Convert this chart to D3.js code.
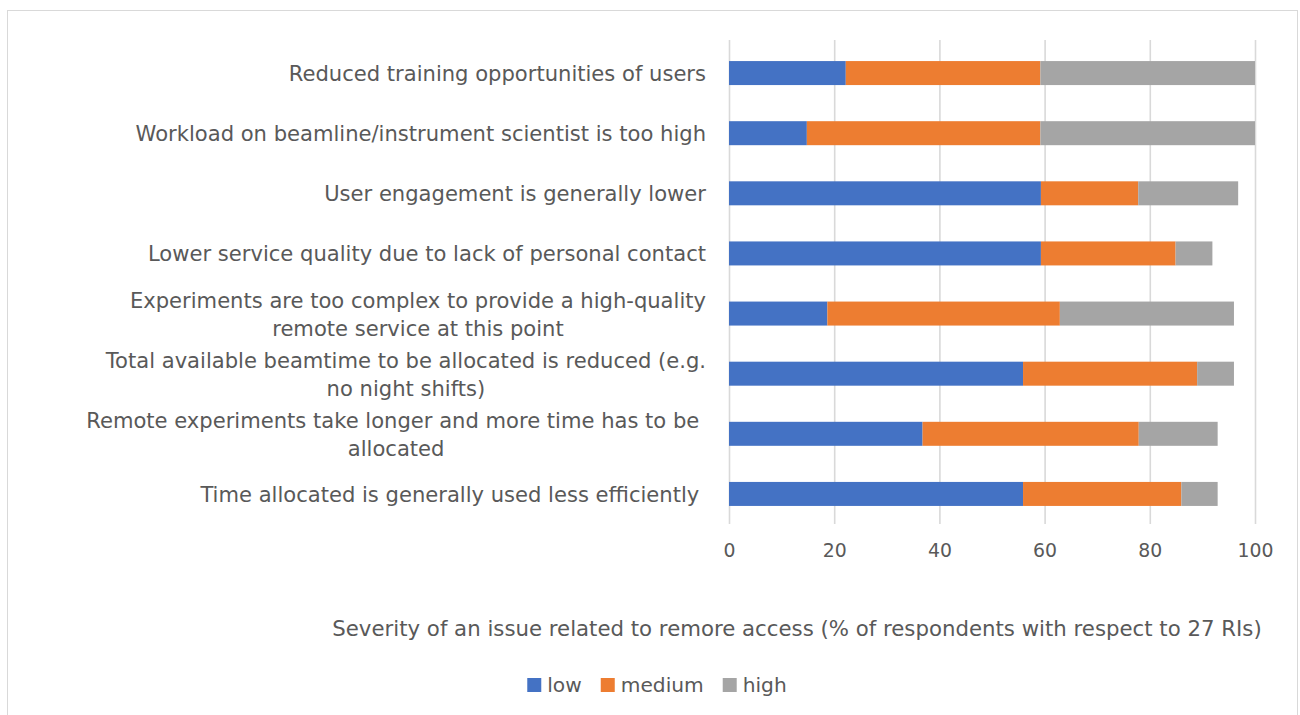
<!DOCTYPE html>
<html>
<head>
<meta charset="utf-8">
<script src="https://cdn.jsdelivr.net/npm/d3@7"></script>
<style>
  html, body { margin: 0; padding: 0; background: #fff; }
  svg { display: block; }
  text { font-family: "DejaVu Sans", sans-serif; fill: #595959; }
</style>
</head>
<body>
<svg id="chart" width="1300" height="715"></svg>
<script>
const categories = [
  ["Reduced training opportunities of users"],
  ["Workload on beamline/instrument scientist is too high"],
  ["User engagement is generally lower"],
  ["Lower service quality due to lack of personal contact"],
  ["Experiments are too complex to provide a high-quality", "remote service at this point"],
  ["Total available beamtime to be allocated is reduced (e.g.", "no night shifts)"],
  ["Remote experiments take longer and more time has to be ", "allocated"],
  ["Time allocated is generally used less efficiently "]
];
const low    = [22.2, 14.8, 59.3, 59.3, 18.7, 55.9, 36.8, 55.9];
const medium = [37.0, 44.4, 18.5, 25.6, 44.2, 33.1, 41.1, 30.1];
const high   = [40.8, 40.8, 19.0, 7.0, 33.1, 7.0, 15.0, 6.9];
const seriesNames = ["low", "medium", "high"];
const colors = ["#4472c4", "#ed7d31", "#a5a5a5"];
const xTicks = [0, 20, 40, 60, 80, 100];
const axisTitle = "Severity of an issue related to remore access (% of respondents with respect to 27 RIs)";

const svg = d3.select("#chart");

// helper: font size so that a string spans a target width
function fitSize(str, target, base) {
  const t = svg.append("text").attr("xml:space", "preserve").style("font-size", base + "px").text(str);
  const w = t.node().getComputedTextLength();
  t.remove();
  return base * target / w;
}

// outer frame
svg.append("rect").attr("x", 7.5).attr("y", 10.5).attr("width", 1290).attr("height", 720)
  .attr("fill", "#fff").attr("stroke", "#d9d9d9").attr("stroke-width", 1);

const x0 = 729, x1 = 1255, yTop = 43, yBot = 524;
const x = d3.scaleLinear().domain([0, 100]).range([x0, x1]);
const idx = d3.range(categories.length);
const y = d3.scaleBand().domain(idx).range([yTop, yBot]).paddingInner(0.6).paddingOuter(0.3);

// gridlines
const grid = svg.append("g").attr("transform", `translate(0,${yBot})`)
  .call(d3.axisBottom(x).tickValues(xTicks).tickSize(-(yBot - yTop) - 3).tickFormat(""));
grid.select(".domain").remove();
grid.selectAll(".tick line").attr("stroke", "#d9d9d9").attr("stroke-width", 1.6);

// stacked bars
const rows = idx.map(i => ({ i, low: low[i], medium: medium[i], high: high[i] }));
const stack = d3.stack().keys(seriesNames)(rows);
const bandCenter = i => y(i) + y.bandwidth() / 2;
const barH = 24;
svg.append("g").selectAll("g").data(stack).join("g")
  .attr("fill", (d, k) => colors[k])
  .selectAll("rect").data(d => d).join("rect")
  .attr("x", d => x(d[0]))
  .attr("width", d => x(d[1]) - x(d[0]))
  .attr("y", d => bandCenter(d.data.i) - barH / 2)
  .attr("height", barH);

// tick labels
const tickSize = fitSize("100", 36, 18);
const ax = svg.append("g").attr("transform", `translate(0,${yBot})`)
  .call(d3.axisBottom(x).tickValues(xTicks).tickSize(0).tickPadding(20));
ax.select(".domain").remove();
ax.selectAll("text").style("font-size", tickSize + "px").style("font-family", null).attr("fill", "#595959");

// category labels
const lineH = 28;
const labelRight = 706;
const labelSize = fitSize(categories[1][0], 571, 19);
const lab = svg.append("g").style("font-size", labelSize + "px");
categories.forEach((lines, i) => {
  const cy = bandCenter(i);
  const t = lab.append("text").attr("text-anchor", "middle").attr("dominant-baseline", "central");
  const n = lines.length;
  lines.forEach((s, j) => {
    t.append("tspan").attr("xml:space", "preserve").text(s)
      .attr("y", cy + (j - (n - 1) / 2) * lineH);
  });
  const widths = [];
  t.selectAll("tspan").each(function () { widths.push(this.getComputedTextLength()); });
  const maxW = d3.max(widths);
  t.selectAll("tspan").attr("x", labelRight - maxW / 2);
});

// axis title
const titleSize = fitSize(axisTitle, 930, 19);
svg.append("text").attr("x", 797).attr("y", 628).attr("text-anchor", "middle")
  .attr("dominant-baseline", "central").style("font-size", titleSize + "px").text(axisTitle);

// legend
const legSize = fitSize("medium", 83, 19);
const legend = svg.append("g").style("font-size", legSize + "px");
const legendItems = legend.selectAll("g").data(seriesNames).join("g");
legendItems.append("rect").attr("width", 14).attr("height", 14).attr("y", 678)
  .attr("fill", (d, k) => colors[k]);
legendItems.append("text").attr("x", 20).attr("y", 685).attr("dominant-baseline", "central").text(d => d);
let cursor = 0;
const offs = [];
legendItems.each(function () {
  const w = this.querySelector("text").getComputedTextLength() + 20;
  offs.push(cursor);
  cursor += w + 19;
});
const totalW = cursor - 19;
const start = 657 - totalW / 2;
legendItems.attr("transform", (d, k) => `translate(${start + offs[k]},0)`);
</script>
</body>
</html>
